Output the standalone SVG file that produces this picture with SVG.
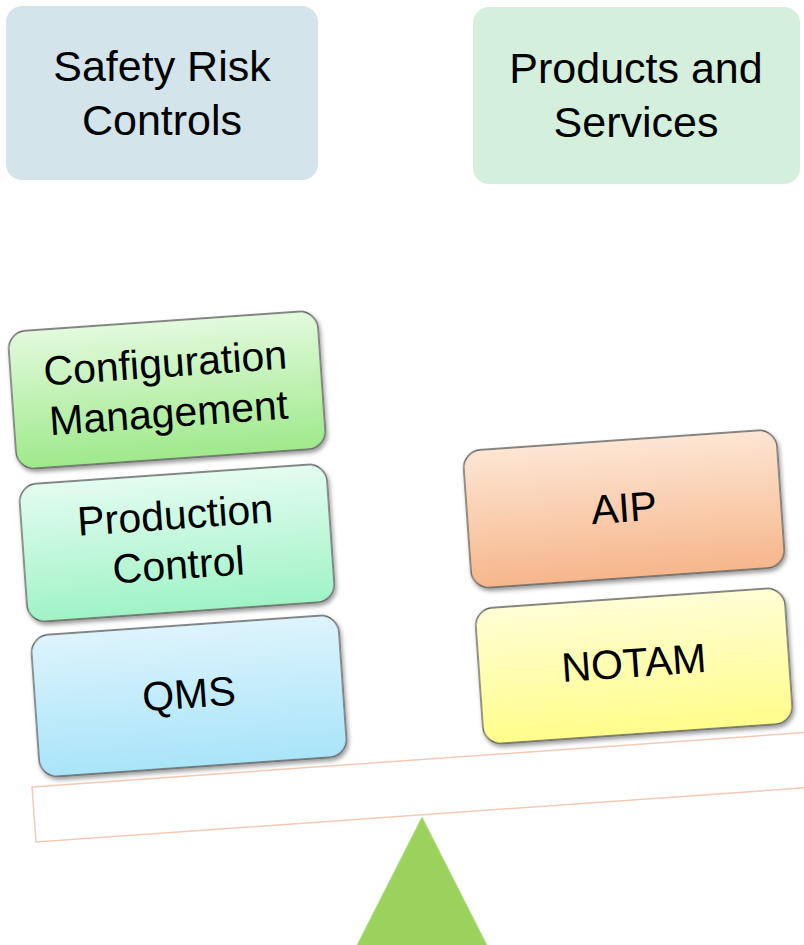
<svg xmlns="http://www.w3.org/2000/svg" width="804" height="945" viewBox="0 0 804 945">
  <defs>
    <style>
      text { font-family: "Liberation Sans", Arial, sans-serif; fill: #000; text-anchor: middle; }
      .head { font-size: 43px; }
      .lbl { font-size: 41px; }
      .card { stroke: #5f5f5f; stroke-width: 1.3; filter: url(#shadow); }
      .beam { fill: #ffffff; stroke: #f5c9b6; stroke-width: 1.5; }
    </style>
    <filter id="shadow" x="-10%" y="-10%" width="125%" height="130%">
      <feDropShadow dx="1.5" dy="3" stdDeviation="2.2" flood-color="#000" flood-opacity="0.4"/>
    </filter>
    <linearGradient id="gConfig" x1="0" y1="0" x2="0" y2="1">
      <stop offset="0" stop-color="#e2fadd"/>
      <stop offset="1" stop-color="#9fe98b"/>
    </linearGradient>
    <linearGradient id="gProd" x1="0" y1="0" x2="0" y2="1">
      <stop offset="0" stop-color="#e4fcf1"/>
      <stop offset="1" stop-color="#9ff3c6"/>
    </linearGradient>
    <linearGradient id="gQms" x1="0" y1="0" x2="0" y2="1">
      <stop offset="0" stop-color="#ddf4fc"/>
      <stop offset="1" stop-color="#a9e4f9"/>
    </linearGradient>
    <linearGradient id="gAip" x1="0" y1="0" x2="0" y2="1">
      <stop offset="0" stop-color="#fde6d4"/>
      <stop offset="1" stop-color="#f6b68b"/>
    </linearGradient>
    <linearGradient id="gNotam" x1="0" y1="0" x2="0" y2="1">
      <stop offset="0" stop-color="#fffed6"/>
      <stop offset="1" stop-color="#fffd8a"/>
    </linearGradient>
  </defs>

  <rect width="804" height="945" fill="#ffffff"/>

  <!-- column headings -->
  <g id="safety-risk-controls">
    <rect x="6" y="6" width="312" height="174" rx="16" fill="#d4e4eb"/>
    <text class="head" x="162" y="81">Safety Risk</text>
    <text class="head" x="162" y="135">Controls</text>
  </g>
  <g id="products-and-services">
    <rect x="473" y="7" width="327" height="177" rx="16" fill="#d4efdc"/>
    <text class="head" x="636" y="83">Products and</text>
    <text class="head" x="636" y="137">Services</text>
  </g>

  <!-- balance beam and fulcrum -->
  <g id="beam">
    <polygon class="beam" points="32,787 812,732 816,787 36,842"/>
  </g>
  <g id="fulcrum">
    <polygon points="422,817 352,955 492,955" fill="#9bd25e" stroke="#b6e08a" stroke-width="1"/>
  </g>

  <!-- left pan: controls -->
  <g id="configuration-management" transform="translate(167,390) rotate(-4)">
    <rect class="card" x="-155" y="-69" width="310" height="138" rx="18" fill="url(#gConfig)"/>
    <text class="lbl" x="0" y="-13">Configuration</text>
    <text class="lbl" x="0" y="37">Management</text>
  </g>
  <g id="production-control" transform="translate(177,543) rotate(-4)">
    <rect class="card" x="-154" y="-69" width="308" height="138" rx="18" fill="url(#gProd)"/>
    <text class="lbl" x="0" y="-14">Production</text>
    <text class="lbl" x="0" y="36">Control</text>
  </g>
  <g id="qms" transform="translate(189,696) rotate(-4)">
    <rect class="card" x="-154" y="-71" width="308" height="142" rx="18" fill="url(#gQms)"/>
    <text class="lbl" x="0" y="12">QMS</text>
  </g>

  <!-- right pan: products -->
  <g id="aip" transform="translate(624,509) rotate(-4)">
    <rect class="card" x="-157" y="-69" width="314" height="138" rx="18" fill="url(#gAip)"/>
    <text class="lbl" x="0" y="13">AIP</text>
  </g>
  <g id="notam" transform="translate(634,666) rotate(-4)">
    <rect class="card" x="-155" y="-68" width="310" height="136" rx="18" fill="url(#gNotam)"/>
    <text class="lbl" x="0" y="11">NOTAM</text>
  </g>
</svg>
